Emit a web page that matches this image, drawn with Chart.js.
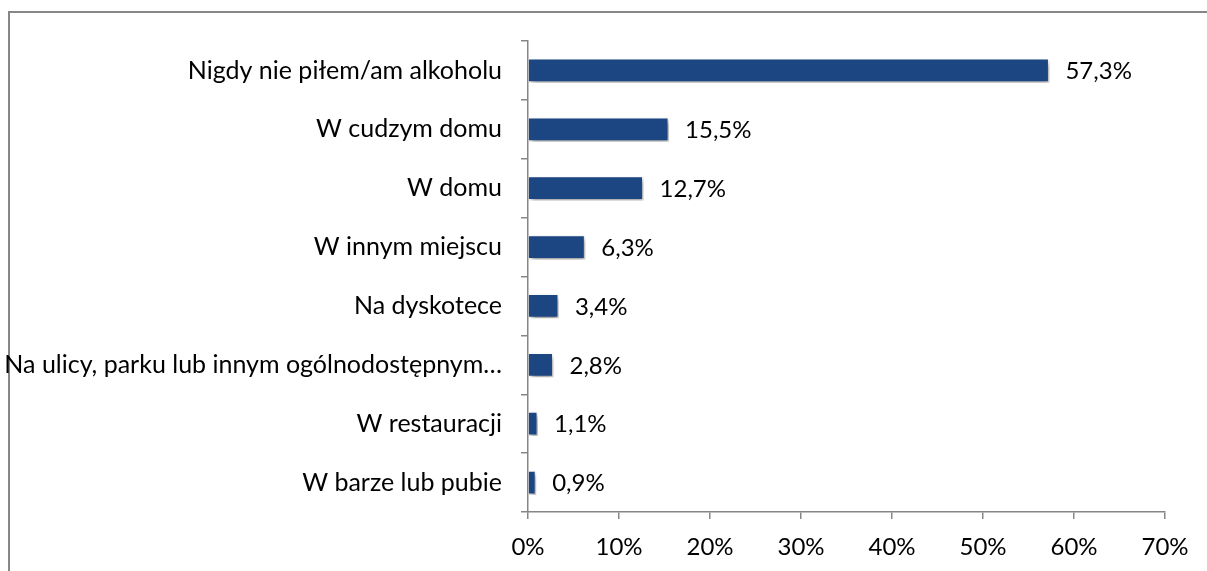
<!DOCTYPE html>
<html>
<head>
<meta charset="utf-8">
<script src="https://cdn.jsdelivr.net/npm/chart.js@4/dist/chart.umd.min.js"></script>
<style>
  html, body { margin: 0; padding: 0; background: #fff; overflow: hidden; }
  #wrap { position: relative; width: 1207px; height: 571px; }
  #frame { position: absolute; left: 8px; top: 11px; width: 1300px; height: 700px; border: 2px solid #878787; box-sizing: border-box; }
  canvas { position: absolute; left: 0; top: 0; }
</style>
</head>
<body>
<div id="wrap">
  <div id="frame"></div>
  <canvas id="chart" width="1207" height="571"></canvas>
</div>
<script>
// miejsce picia alkoholu — odsetek odpowiedzi
const categories = [
  "Nigdy nie piłem/am alkoholu",
  "W cudzym domu",
  "W domu",
  "W innym miejscu",
  "Na dyskotece",
  "Na ulicy, parku lub innym ogólnodostępnym…",
  "W restauracji",
  "W barze lub pubie",
];
const values = [57.3, 15.5, 12.7, 6.3, 3.4, 2.8, 1.1, 0.9];
const xTicks = [0, 10, 20, 30, 40, 50, 60, 70];

const FONT = "Lato, 'Open Sans', sans-serif";
const AXIS = "#868686";
const BAR = "#1c4682";

const fmt = (v) => v.toFixed(1).replace(".", ",") + "%";

// cień pod słupkami jak w Excelu
const shadowPlugin = {
  id: "barShadow",
  beforeDatasetDraw(chart) {
    const ctx = chart.ctx;
    ctx.save();
    ctx.shadowColor = "rgba(0,0,0,0.4)";
    ctx.shadowBlur = 5;
    ctx.shadowOffsetX = 2;
    ctx.shadowOffsetY = 3;
  },
  afterDatasetDraw(chart) {
    chart.ctx.restore();
  },
};

// etykiety wartości za końcem słupka
const valueLabels = {
  id: "valueLabels",
  afterDatasetsDraw(chart) {
    const ctx = chart.ctx;
    const meta = chart.getDatasetMeta(0);
    ctx.save();
    ctx.font = "24px " + FONT;
    ctx.fillStyle = "#000";
    ctx.textAlign = "left";
    ctx.textBaseline = "middle";
    meta.data.forEach((bar, i) => {
      ctx.fillText(fmt(values[i]), bar.x + 16, bar.y + 1);
    });
    ctx.restore();
  },
};

new Chart(document.getElementById("chart"), {
  type: "bar",
  data: {
    labels: categories,
    datasets: [{
      data: values,
      backgroundColor: BAR,
      borderColor: "#ffffff",
      borderWidth: 1.5,
      borderSkipped: "left",
      categoryPercentage: 1,
      barPercentage: 0.42,
    }],
  },
  options: {
    indexAxis: "y",
    responsive: false,
    animation: false,
    devicePixelRatio: 1,
    layout: { padding: { top: 41, right: 42, left: 0, bottom: 0 } },
    plugins: { legend: { display: false }, tooltip: { enabled: false } },
    scales: {
      x: {
        min: 0,
        max: 70,
        afterBuildTicks: (scale) => { scale.ticks = xTicks.map((v) => ({ value: v })); },
        afterFit: (scale) => { scale.height = 59; },
        border: { color: AXIS, width: 1.5 },
        grid: { drawOnChartArea: false, drawTicks: true, tickLength: 7, color: AXIS, lineWidth: 1.5 },
        ticks: {
          color: "#000",
          font: { family: FONT, size: 24 },
          padding: 14,
          maxRotation: 0,
          callback: (v) => v + "%",
        },
      },
      y: {
        afterFit: (scale) => { scale.width = 528; },
        border: { color: AXIS, width: 1.5 },
        grid: { offset: true, drawOnChartArea: false, drawTicks: true, tickLength: 7, color: AXIS, lineWidth: 1.5 },
        ticks: {
          color: "#000",
          font: { family: FONT, size: 25 },
          padding: 19,
          autoSkip: false,
        },
      },
    },
  },
  plugins: [shadowPlugin, valueLabels],
});
</script>
</body>
</html>
